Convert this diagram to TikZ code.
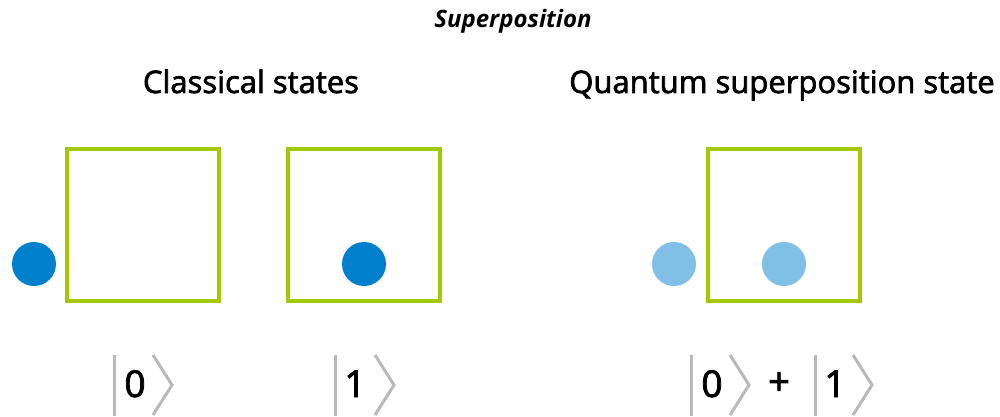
\documentclass[tikz,border=0pt]{standalone}
\usepackage{fontspec}
\setmainfont{Open Sans}
\newfontfamily\semib[FakeBold=2.2]{Open Sans}
\definecolor{boxgreen}{RGB}{162,200,0}
\definecolor{dotblue}{RGB}{0,128,204}
\definecolor{lightblue}{RGB}{128,192,230}
\definecolor{ketgray}{RGB}{185,185,185}
\begin{document}
\begin{tikzpicture}[x=1pt,y=-1pt,
  boxsq/.style={draw=boxgreen,line width=4pt,minimum width=152pt,minimum height=152pt,inner sep=0pt},
  dot/.style={circle,fill=#1,minimum size=44pt,inner sep=0pt},
  ketline/.style={draw=ketgray,line width=3pt},
  digit/.style={anchor=base,font=\semib\fontsize{37}{40}\selectfont,inner sep=0pt},
  heading/.style={anchor=base,font=\semib\fontsize{31}{33}\selectfont,inner sep=0pt}]
\useasboundingbox (0,0) rectangle (1000,417);
\node[anchor=base,font=\fontsize{24}{26}\selectfont\bfseries\itshape,inner sep=0pt] (title) at (513,28) {Superposition};
\node[heading] (hc) at (251,93) {Classical states};
\node[heading] (hq) at (782,93) {Quantum superposition state};
% boxes
\node[boxsq] (b1) at (143,225) {};
\node[boxsq] (b2) at (364,225) {};
\node[boxsq] (b3) at (784,225) {};
% dots
\node[dot=dotblue] (d1) at (34,264) {};
\node[dot=dotblue] (d2) at (364,264) {};
\node[dot=lightblue] (d3) at (674,264) {};
\node[dot=lightblue] (d4) at (784,264) {};
% kets
\draw[ketline] (114,355) -- (114,416);
\node[digit] (k0) at (135,397) {0};
\draw[ketline] (153,355) -- (172,385) -- (153,415);
\draw[ketline] (335,355) -- (335,416);
\node[digit] (k1) at (355,397) {1};
\draw[ketline] (375,355) -- (394,385) -- (375,415);
\draw[ketline] (691,355) -- (691,416);
\node[digit] (k2) at (712,397) {0};
\draw[ketline] (730,355) -- (749,385) -- (730,415);
\node[anchor=base,font=\semib\fontsize{38}{40}\selectfont,inner sep=0pt] (plus) at (779,395) {+};
\draw[ketline] (815,355) -- (815,416);
\node[digit] (k3) at (835,397) {1};
\draw[ketline] (853,355) -- (872,385) -- (853,415);
\end{tikzpicture}
\end{document}
